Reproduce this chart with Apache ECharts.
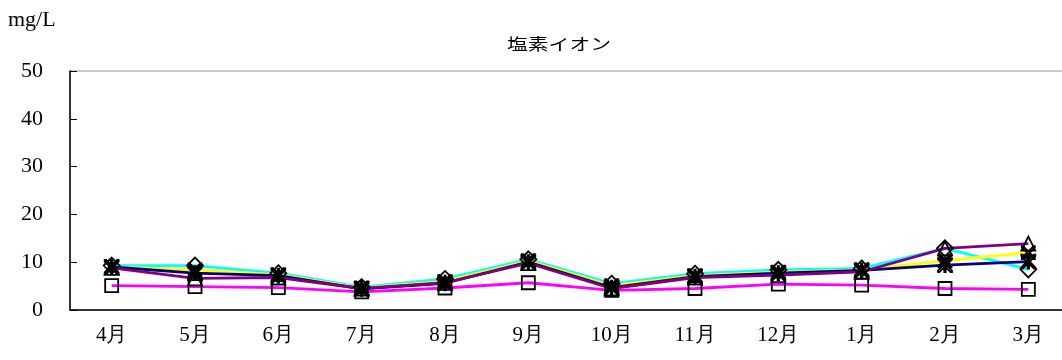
<!DOCTYPE html>
<html><head><meta charset="utf-8">
<script src="https://cdn.jsdelivr.net/npm/echarts@6/dist/echarts.min.js"></script>
<style>html,body{margin:0;padding:0;background:#fff}#c{width:1062px;height:360px}</style>
</head><body><div id="c"></div>
<script>
const categories = ['4月','5月','6月','7月','8月','9月','10月','11月','12月','1月','2月','3月'];
const yTicks = [0,10,20,30,40,50];
const cyanVals    = [9.3, 9.3, 7.7, 4.8, 6.5, 10.6, 5.5, 7.6, 8.4, 8.7, 12.9, 8.5];
const yellowVals  = [9.0, 8.4, 7.4, 4.6, 6.0, 10.3, 5.1, 7.2, 7.9, 8.4, 10.3, 12.0];
const navyVals    = [9.0, 7.7, 7.2, 4.4, 5.6, 10.0, 4.7, 7.0, 7.7, 8.3, 9.4, 10.1];
const purpleVals  = [8.8, 6.6, 6.8, 4.5, 5.7, 9.8, 4.5, 6.8, 7.3, 8.0, 12.9, 13.9];
const magentaVals = [5.1, 4.9, 4.7, 3.8, 4.6, 5.7, 4.1, 4.5, 5.4, 5.2, 4.5, 4.3];

const X_PATH = 'path://M0,0 L2,0 L10,8 L18,0 L20,0 L20,2 L12,10 L20,18 L20,20 L18,20 L10,12 L2,20 L0,20 L0,18 L8,10 L0,2 Z';
const AST_PATH = 'path://M0,0 L2,0 L10,8 L18,0 L20,0 L20,2 L12,10 L20,18 L20,20 L18,20 L10,12 L2,20 L0,20 L0,18 L8,10 L0,2 Z M9,0 L11,0 L11,20 L9,20 Z';

function mk(name, data, color, symbol, size){
  return {
    name, type:'line', data, symbol, symbolSize:size,
    lineStyle:{color, width:2.8}, itemStyle:{color:'rgba(0,0,0,0)', borderColor:'#000', borderWidth:1.8},
    emphasis:{disabled:true}, animation:false
  };
}
const chart = echarts.init(document.getElementById('c'));
const serif = '"Liberation Serif","Times New Roman",serif';
chart.setOption({
  backgroundColor:'#fff',
  animation:false,
  graphic:[
    {type:'text', left:8, top:9, style:{text:'mg/L', font:'22px "Liberation Serif", serif', fill:'#000'}},
    {type:'text', x:559, y:44, scaleX:1.3, style:{text:'塩素イオン', font:'16px "Noto Sans CJK JP", sans-serif', fill:'#000', align:'center', verticalAlign:'middle'}}
  ],
  grid:{left:70, top:71, width:1000, height:239, outerBoundsMode:'none', containLabel:false, show:true, borderColor:'#999', borderWidth:1},
  xAxis:{type:'category', data:categories, boundaryGap:true,
    axisLine:{lineStyle:{color:'#000', width:1.5}},
    axisTick:{inside:true, length:7, lineStyle:{color:'#000'}},
    axisLabel:{fontFamily:serif, fontSize:21, color:'#000', margin:15}},
  yAxis:{type:'value', min:0, max:50, interval:10,
    axisLine:{show:true, lineStyle:{color:'#000', width:1.5}},
    axisTick:{show:true, inside:true, length:7, lineStyle:{color:'#000'}},
    splitLine:{show:false},
    axisLabel:{fontFamily:serif, fontSize:22, color:'#000', margin:27}},
  series:[
    mk('s1', cyanVals, '#00FFFF', 'diamond', 16),
    mk('s2', yellowVals, '#FFFF00', X_PATH, 13),
    mk('s3', navyVals, '#000080', AST_PATH, 14),
    mk('s4', purpleVals, '#800080', 'triangle', 14),
    mk('s5', magentaVals, '#FF00FF', 'rect', 13)
  ]
});
</script></body></html>
